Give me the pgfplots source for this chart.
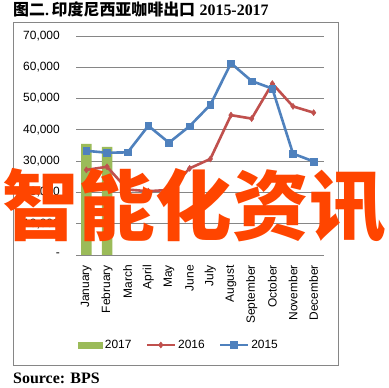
\documentclass[border=0pt]{standalone}
\usepackage{fontspec}
\setmainfont{Liberation Sans}
\newfontfamily\cjk{Noto Sans CJK SC}
\newfontfamily\tnr{Liberation Serif}
\usepackage{pgfplots}
\pgfplotsset{compat=1.18}
\definecolor{g17}{HTML}{9BBB59}
\definecolor{r16}{HTML}{C0504D}
\definecolor{b15}{HTML}{4F81BD}
\definecolor{gridc}{HTML}{868686}
\definecolor{wm}{HTML}{FF4500}
\pgfplotsset{
  barleg/.style={legend image code/.code={\fill[g17] (0bp,-3.5bp) rectangle (25bp,3.5bp);}},
  lineleg/.style={legend image code/.code={\draw[mark repeat=2,mark phase=2,##1] plot coordinates {(0bp,0bp) (14bp,0bp) (28bp,0bp)};}},
}
\begin{document}
\begin{tikzpicture}
\useasboundingbox (0bp,0bp) rectangle (389bp,388bp);
\fill[white] (0bp,0bp) rectangle (389bp,388bp);
\draw[gridc, line width=0.8bp] (13bp,23bp) rectangle (338bp,366bp);
\node[anchor=base west, inner sep=0pt, font=\fontsize{16}{18}\selectfont\bfseries] at (13bp,372bp) {{\cjk 图二}{\tnr .}\,{\cjk 印度尼西亚咖啡出口} {\tnr 2015-2017}};
\node[anchor=base west, inner sep=0pt, font=\fontsize{16}{18}\selectfont\bfseries\tnr] at (13bp,5bp) {Source: BPS};
\begin{axis}[
  at={(76bp,133bp)}, anchor=south west, scale only axis,
  width=248bp, height=219bp,
  xmin=-0.5, xmax=11.5, ymin=0, ymax=70000,
  scaled y ticks=false,
  axis line style={draw=none}, tick style={draw=none},
  ymajorgrids, grid style={gridc, line width=0.8bp},
  ytick={0,10000,20000,30000,40000,50000,60000,70000},
  yticklabels={{-\hspace{5bp}},{10,000},{20,000},{30,000},{40,000},{50,000},{60,000},{70,000}},
  xtick={0,1,2,3,4,5,6,7,8,9,10,11},
  xticklabels={January,February,March,April,May,June,July,August,September,October,November,December},
  tick label style={font=\fontsize{12}{14}\selectfont, inner sep=0pt},
  xticklabel style={rotate=90, anchor=east},
  yticklabel style={anchor=east},
  xticklabel shift=10bp, yticklabel shift=16bp,
  legend style={at={(axis description cs:0.415,-0.411)}, anchor=center, draw=none, fill=none,
    font=\fontsize{12}{14}\selectfont, legend columns=3,
    /tikz/every even column/.append style={column sep=12bp}},
  clip=false,
]
\addplot[ybar, bar width=10.5bp, fill=g17, draw=none, barleg]
  coordinates {(0,35500) (1,34600)};
\addplot[r16, line width=2.6bp, mark=diamond*, mark size=3bp, mark options={solid, fill=r16, line width=0.5bp}, lineleg]
  coordinates {(0,27200) (1,28200) (2,20900) (3,20400) (4,20800) (5,27700) (6,30700) (7,44700) (8,43600) (9,54800) (10,47500) (11,45500)};
\addplot[b15, line width=2.6bp, mark=square*, mark size=3.3bp, mark options={solid, fill=b15, line width=0.5bp}, lineleg]
  coordinates {(0,33300) (1,32700) (2,32800) (3,41300) (4,35900) (5,41200) (6,48000) (7,61300) (8,55600) (9,53200) (10,32400) (11,29900)};
\legend{2017,2016,2015}
\end{axis}
\node[anchor=base west, inner sep=0pt, text=wm, font=\fontsize{77}{80}\selectfont\cjk\bfseries] at (2bp,153bp) {智能化资讯};
\end{tikzpicture}
\end{document}
